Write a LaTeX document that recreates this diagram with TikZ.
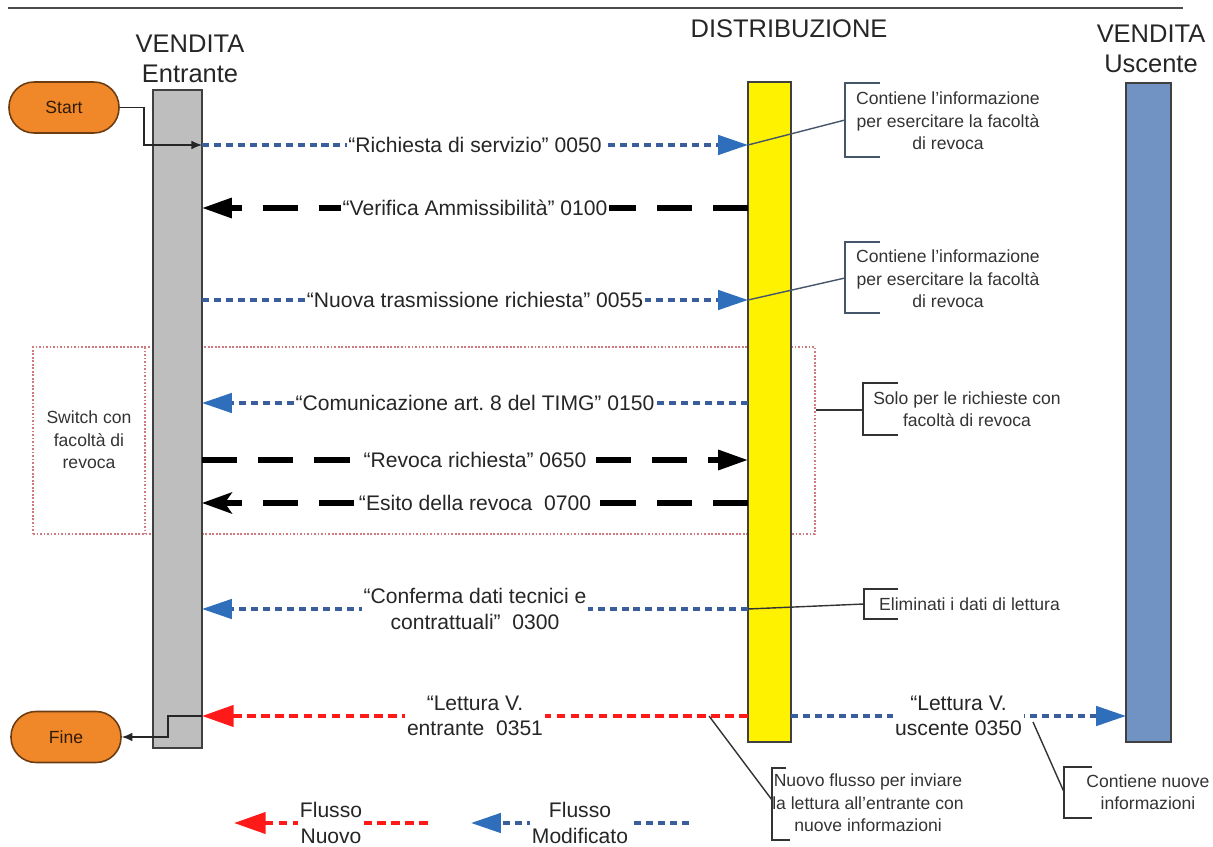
\documentclass[tikz,border=0pt]{standalone}
\usepackage{fontspec}
\setmainfont{Liberation Sans}
\usetikzlibrary{arrows.meta}
\definecolor{flowblue}{HTML}{3A5D9C}
\definecolor{tipblue}{HTML}{2F6EBA}
\definecolor{flowred}{HTML}{FF1A1A}
\definecolor{pillorange}{HTML}{F0882A}
\definecolor{lanegray}{HTML}{BEBEBE}
\definecolor{laneblue}{HTML}{7093C3}
\definecolor{boxred}{HTML}{D07A80}
\definecolor{notegray}{HTML}{46566A}

\begin{document}
\frenchspacing
\begin{tikzpicture}[x={(0.02cm,0)}, y={(0,-0.02cm)}]
        \tikzset{lane/.style={
            draw=black!75,
            line width=0.9pt,
            fill=#1,
            inner sep=0pt,
            outer sep=0pt
        }}
        \tikzset{pill/.style={
            draw=pillorange!45!black,
            line width=0.9pt,
            fill=pillorange,
            rounded corners=0.5cm,
            minimum width=2.2cm,
            minimum height=1.02cm,
            font=\fontsize{10}{12}\selectfont,
            text=pillorange!20!black
        }}
        \tikzset{title/.style={align=center, font=\fontsize{14.5}{17}\selectfont, text=black!85}}
        \tikzset{msg/.style={fill=white, inner xsep=1pt, inner ysep=1pt, align=center, font=\fontsize{12}{14.5}\selectfont, text=black!85}}
        \tikzset{note/.style={align=center, font=\fontsize{10}{12.7}\selectfont, text=black!80}}
        \tikzset{blueflow/.style={flowblue, line width=2pt, dash pattern=on 4pt off 2.8pt, -{Triangle[length=17pt, width=11pt, color=tipblue]}}}
        \tikzset{redflow/.style={flowred, line width=2.2pt, dash pattern=on 5pt off 3pt, -{Triangle[length=18pt, width=12pt]}}}
        \tikzset{blackflow/.style={black, line width=3pt, dash pattern=on 20pt off 12pt, -{Triangle[length=17pt, width=11pt]}}}
        \tikzset{revline/.style={boxred, line width=0.8pt, dash pattern=on 1pt off 1pt}}
        \tikzset{leader/.style={notegray, line width=0.8pt}}
        \tikzset{ctrl/.style={black!85, line width=0.9pt, -{Latex[length=6pt, width=5pt]}}}

        \useasboundingbox (0,0) rectangle (1213,847);
        \draw[black!70, line width=1.2pt] (8,8) -- (1183,8);

        % revoca region
        \node[revline, draw, minimum width=15.64cm, minimum height=3.74cm] (rev) at (424,440.5) {};
        \draw[revline] (145,347) -- (145,534);
        \node[note] (sw) at (89,440) {Switch con\\facoltà di\\revoca};

        % lanes
        \node[lane=lanegray, minimum width=0.98cm, minimum height=13.16cm] (ent) at (177.5,419) {};
        \node[lane=yellow, minimum width=0.86cm, minimum height=13.2cm] (dis) at (769.5,412) {};
        \node[lane=laneblue, minimum width=0.9cm, minimum height=13.18cm] (usc) at (1148.5,412.5) {};
        \node[title] (tent) at (190,59) {VENDITA\\Entrante};
        \node[title] (tdis) at (789,29) {DISTRIBUZIONE};
        \node[title] (tusc) at (1151,49) {VENDITA\\Uscente};

        \node[pill] (start) at (64,107.5) {Start};
        \node[pill] (fine) at (66,737) {Fine};

        \coordinate (r1) at (0,145);
        \coordinate (r2) at (0,208);
        \coordinate (r3) at (0,300);
        \coordinate (r4) at (0,403);
        \coordinate (r5) at (0,460);
        \coordinate (r6) at (0,503);
        \coordinate (r7) at (0,609);
        \coordinate (r8) at (0,716);

        \draw[ctrl] (start.east) -- ++(24,0) |- (ent.east |- r1);
        \draw[ctrl] (ent.east |- r8) -- ++(-34,0) |- (fine.east);

        % messages
        \draw[blueflow] (ent.east |- r1) -- node[msg] {“Richiesta di servizio” 0050} (dis.west |- r1);
        \draw[blackflow] (dis.west |- r2) -- node[msg] {“Verifica Ammissibilità” 0100} (ent.east |- r2);
        \draw[blueflow] (ent.east |- r3) -- node[msg] {“Nuova trasmissione richiesta” 0055} (dis.west |- r3);
        \draw[blueflow] (dis.west |- r4) -- node[msg] {“Comunicazione art. 8 del TIMG” 0150} (ent.east |- r4);
        \draw[blackflow] (ent.east |- r5) -- node[msg] {“Revoca richiesta” 0650} (dis.west |- r5);
        \draw[blackflow, -{Stealth[length=17pt, width=12pt, inset=4pt]}] (dis.west |- r6) -- node[msg] {“Esito della revoca\ \ 0700} (ent.east |- r6);
        \draw[blueflow] (dis.west |- r7) -- node[msg] {“Conferma dati tecnici e\\contrattuali”\ \ 0300} (ent.east |- r7);
        \draw[redflow] (dis.west |- r8) -- node[msg] {“Lettura V.\\entrante\ \ 0351} (ent.east |- r8);
        \draw[blueflow] (dis.east |- r8) -- node[msg] {“Lettura V.\\uscente 0350} (usc.west |- r8);

        % notes
        \draw[leader] (880,83) -| (845,157) -- (880,157);
        \coordinate (c1) at (845,120);
        \node[note] (n1) at (948,121) {Contiene l'informazione\\per esercitare la facoltà\\di revoca};
        \draw[leader] (c1) -- (dis.west |- r1);

        \draw[leader] (880,242) -| (845,313) -- (880,313);
        \coordinate (c2) at (845,278);
        \node[note] (n2) at (948,279) {Contiene l'informazione\\per esercitare la facoltà\\di revoca};
        \draw[leader] (c2) -- (dis.west |- r3);

        \draw[leader, black!80] (898,383) -| (863,435) -- (898,435);
        \coordinate (c3) at (863,410);
        \node[note] (n3) at (967,409) {Solo per le richieste con\\facoltà di revoca};
        \draw[leader, black!80] (rev.east |- c3) -- (c3);

        \draw[leader, black!80] (898,589) -| (864,619) -- (898,619);
        \coordinate (c4) at (864,604);
        \node[note, anchor=west] (n4) at (873,604) {Eliminati i dati di lettura};
        \draw[leader, black!80] (c4) -- (dis.west |- r7);

        \draw[leader, black!80] (786,768) -| (772,840) -- (790,840);
        \coordinate (c5) at (772,800);
        \coordinate (e5) at (709,716);
        \node[note] (n5) at (868,803) {Nuovo flusso per inviare\\la lettura all'entrante con\\nuove informazioni};
        \draw[leader, black!80] (e5) -- (c5);

        \draw[leader, black!80] (1092,767) -| (1064,818) -- (1092,818);
        \coordinate (c6) at (1064,792);
        \coordinate (e6) at (1033,722);
        \node[note] (n6) at (1148,792) {Contiene nuove\\informazioni};
        \draw[leader, black!80] (e6) -- (c6);

        % legend
        \coordinate (lr1) at (428,823);
        \coordinate (lr0) at (234,823);
        \draw[redflow] (lr1) -- node[msg] {Flusso\\Nuovo} (lr0);
        \coordinate (lb1) at (689,823);
        \coordinate (lb0) at (471,823);
        \draw[blueflow] (lb1) -- node[msg] {Flusso\\Modificato} (lb0);
\end{tikzpicture}
\end{document}
